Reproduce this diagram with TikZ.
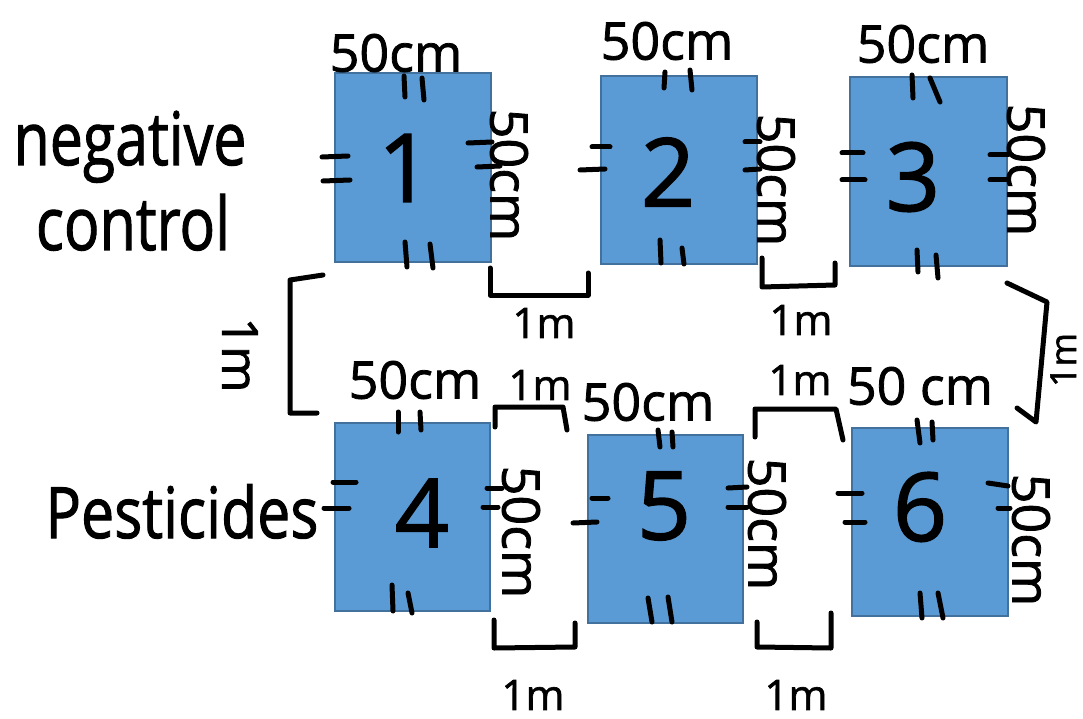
\documentclass[tikz,border=0pt]{standalone}
\usepackage{fontspec}
\setmainfont{Open Sans}[FakeBold=1.5]
\definecolor{boxfill}{HTML}{5B9BD5}
\definecolor{boxline}{HTML}{41719C}
\tikzset{
  bed/.style={draw=boxline, fill=boxfill, line width=2pt, inner sep=0, minimum width=156pt, minimum height=188pt},
  hand/.style={line width=5pt, line cap=round, line join=round},
  digit/.style={font=\fontsize{95}{95}\selectfont, inner sep=0},
  dimtxt/.style={font=\fontsize{52}{52}\selectfont, inner sep=0},
  sidetxt/.style={dimtxt, rotate=-90},
  gaptxt/.style={font=\fontsize{42}{42}\selectfont, inner sep=0},
  lbl/.style={font=\fontsize{59}{59}\selectfont, inner sep=0, anchor=base}
}
\begin{document}
\begin{tikzpicture}[x=1pt,y=-1pt]
\useasboundingbox (0,0) rectangle (1083,719);
\fill[white] (0,0) rectangle (1083,719);

% beds
\node[bed, minimum width=156pt, minimum height=189pt] (b1) at (413,167.5) {};
\node[bed, minimum width=156pt, minimum height=188pt] (b2) at (679,170) {};
\node[bed, minimum width=157pt, minimum height=189pt] (b3) at (928.5,171.5) {};
\node[bed, minimum width=155pt, minimum height=188pt] (b4) at (412.5,517) {};
\node[bed, minimum width=155pt, minimum height=188pt] (b5) at (665.5,529) {};
\node[bed, minimum width=156pt, minimum height=188pt] (b6) at (930,522) {};

% numbers
\node[digit] (d1) at (405,168) {1};
\node[digit] (d2) at (668,172) {2};
\node[digit] (d3) at (913,177) {3};
\node[digit] (d4) at (422,513) {4};
\node[digit] (d5) at (664,506) {5};
\node[digit] (d6) at (920,507) {6};

% row labels
\node[lbl] (neg) at (130,165) {\scalebox{1}[1.25]{negative}};
\node[lbl] (ctl) at (133,250) {\scalebox{1}[1.25]{control}};
\node[lbl] (pest) at (182,538) {\scalebox{1}[1.2]{Pesticides}};

% top dimension labels
\node[dimtxt] (t1) at (396,53) {50cm};
\node[dimtxt] (t2) at (667,41) {50cm};
\node[dimtxt] (t3) at (923,44) {50cm};
\node[dimtxt] (t4) at (415,380) {50cm};
\node[dimtxt] (t5) at (648,402) {50cm};
\node[dimtxt] (t6) at (920,386) {50 cm};

% side dimension labels
\node[sidetxt] (s1) at (509,175) {50cm};
\node[sidetxt] (s2) at (776,180) {50cm};
\node[sidetxt] (s3) at (1026,170) {50cm};
\node[sidetxt] (s4) at (521,532) {50cm};
\node[sidetxt] (s5) at (767,524) {50cm};
\node[sidetxt] (s6) at (1031,540) {50cm};

% gap labels
\node[gaptxt] (g12) at (544,323) {1m};
\node[gaptxt] (g23) at (801,320) {1m};
\node[gaptxt] (g45a) at (540,385) {1m};
\node[gaptxt] (g56a) at (800,380) {1m};
\node[gaptxt] (g45b) at (533,695) {1m};
\node[gaptxt] (g56b) at (796,695) {1m};
\node[font=\fontsize{50}{50}\selectfont, inner sep=0, rotate=-90] (rowL) at (240,355) {1m};
\node[font=\fontsize{36}{36}\selectfont, inner sep=0, rotate=90, anchor=base] (rowR) at (1076,360) {1m};

% gap brackets
\draw[hand] (490,268) -- (490,295) -- (588,295) -- (588,273);
\draw[hand] (762,258) -- (762,287) -- (835,285) -- (835,263);
\draw[hand] (495,427) -- (495,407) -- (563,407) -- (567,430);
\draw[hand] (755,437) -- (755,409) -- (836,409) -- (843,440);
\draw[hand] (494,620) -- (494,648) -- (575,647) -- (575,623);
\draw[hand] (757,622) -- (757,647) -- (831,648) -- (831,613);
% row brackets
\draw[hand] (323,275) -- (290,280) -- (290,413) -- (317,413);
\draw[hand] (1007,283) -- (1047,302) -- (1036,422) -- (1017,408);

% congruence ticks, bed 1
\draw[hand] (404,76) -- (405,97);  \draw[hand] (422,78) -- (424,100);
\draw[hand] (405,242) -- (407,267); \draw[hand] (430,244) -- (433,268);
\draw[hand] (322,157) -- (348,156); \draw[hand] (323,181) -- (350,180);
\draw[hand] (468,143) -- (492,142); \draw[hand] (477,167) -- (500,166);
% bed 2
\draw[hand] (665,72) -- (664,88);  \draw[hand] (690,70) -- (692,90);
\draw[hand] (660,240) -- (661,263); \draw[hand] (682,248) -- (684,264);
\draw[hand] (592,147) -- (610,147); \draw[hand] (580,170) -- (605,169);
\draw[hand] (745,142) -- (760,142); \draw[hand] (745,170) -- (760,169);
% bed 3
\draw[hand] (912,75) -- (913,98);  \draw[hand] (930,78) -- (940,102);
\draw[hand] (917,250) -- (918,272); \draw[hand] (936,255) -- (938,278);
\draw[hand] (842,153) -- (863,153); \draw[hand] (842,180) -- (865,180);
\draw[hand] (990,155) -- (1008,155); \draw[hand] (990,180) -- (1008,180);
% bed 4
\draw[hand] (398,412) -- (398,432); \draw[hand] (420,412) -- (421,430);
\draw[hand] (392,585) -- (393,611); \draw[hand] (408,593) -- (412,613);
\draw[hand] (333,482) -- (356,482); \draw[hand] (324,508) -- (349,508);
\draw[hand] (487,488) -- (502,488); \draw[hand] (483,507) -- (498,507);
% bed 5
\draw[hand] (658,430) -- (660,447); \draw[hand] (672,432) -- (673,447);
\draw[hand] (648,598) -- (652,622); \draw[hand] (668,597) -- (672,622);
\draw[hand] (592,498) -- (608,498); \draw[hand] (573,523) -- (597,522);
\draw[hand] (728,488) -- (747,487); \draw[hand] (728,507) -- (747,507);
% bed 6
\draw[hand] (917,420) -- (920,443); \draw[hand] (932,422) -- (933,440);
\draw[hand] (920,593) -- (922,618); \draw[hand] (938,593) -- (943,618);
\draw[hand] (838,493) -- (862,493); \draw[hand] (845,522) -- (865,522);
\draw[hand] (988,483) -- (1008,486); \draw[hand] (998,508) -- (1010,508);
\end{tikzpicture}
\end{document}
